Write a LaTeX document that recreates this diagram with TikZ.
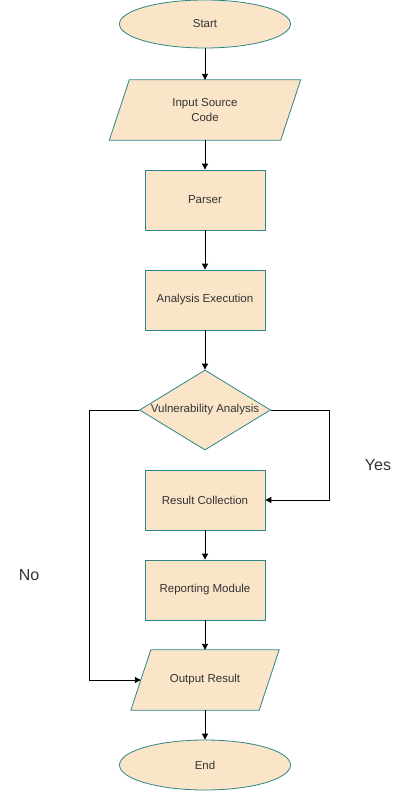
\documentclass[tikz,border=0pt]{standalone}
\usepackage{fontspec}
\setmainfont{Liberation Sans}
\usetikzlibrary{shapes.geometric,arrows.meta,calc}
\definecolor{boxfill}{HTML}{FAE5C8}
\definecolor{boxline}{HTML}{2E8585}
\definecolor{txt}{HTML}{333333}
\begin{document}
\begin{tikzpicture}[x=1pt,y=-1pt,
  every node/.style={font=\fontsize{11.5}{14}\selectfont, text=txt, align=center},
  base/.style={fill=boxfill, draw=boxline, line width=0.8pt, inner sep=0pt},
  procbox/.style={base, rectangle, minimum width=120pt, minimum height=60pt},
  termbox/.style={base, ellipse, minimum width=171pt, minimum height=48pt},
  decbox/.style={base, diamond, minimum width=131pt, minimum height=80pt, aspect=1.6},
  iobox/.style={rectangle, inner sep=0pt, minimum height=60pt},
  para/.style={fill=boxfill, draw=boxline, line width=0.8pt},
  arr/.style={draw=black, line width=0.9pt, -{Triangle[length=6pt,width=6pt]}},
  lbl/.style={font=\fontsize{16}{18}\selectfont, text=txt}
]
\useasboundingbox[fill=white] (0,0) rectangle (410,792);

\node[termbox] (start) at (205,24) {Start};

\node[iobox, minimum width=171pt] (input) at (205,110) {};
\path[para] ($(input.north west)+(10,0)$) -- ($(input.north east)+(10,0)$)
  -- ($(input.south east)+(-10,0)$) -- ($(input.south west)+(-10,0)$) -- cycle;
\node at (input.center) {Input Source\\[1pt]Code};

\node[procbox] (parser) at (205,200) {Parser};
\node[procbox] (exec) at (205,300) {Analysis Execution};
\node[decbox] (vuln) at (205,410) {Vulnerability Analysis};
\node[procbox] (collect) at (205,500) {Result Collection};
\node[procbox] (report) at (205,590) {Reporting Module};

\node[iobox, minimum width=128pt] (output) at (205,680) {};
\path[para] ($(output.north west)+(10,0)$) -- ($(output.north east)+(10,0)$)
  -- ($(output.south east)+(-10,0)$) -- ($(output.south west)+(-10,0)$) -- cycle;
\node at (output.center) {Output Result};

\node[termbox, minimum height=50pt] (end) at (205,765) {End};

\coordinate (yesc) at (329,410);
\coordinate (noc) at (89,410);

\draw[arr] (start) -- (input.north);
\draw[arr] (input.south) -- (parser);
\draw[arr] (parser) -- (exec);
\draw[arr] (exec) -- (vuln);
\draw[arr] (vuln.east) -- (yesc) |- (collect.east);
\draw[arr] (vuln.west) -- (noc) |- (output.west);
\draw[arr] (collect) -- (report);
\draw[arr] (report.south) -- (output.north);
\draw[arr] (output.south) -- (end);

\node[lbl] (yes) at (378,465) {Yes};
\node[lbl] (no) at (29,575) {No};
\end{tikzpicture}
\end{document}
